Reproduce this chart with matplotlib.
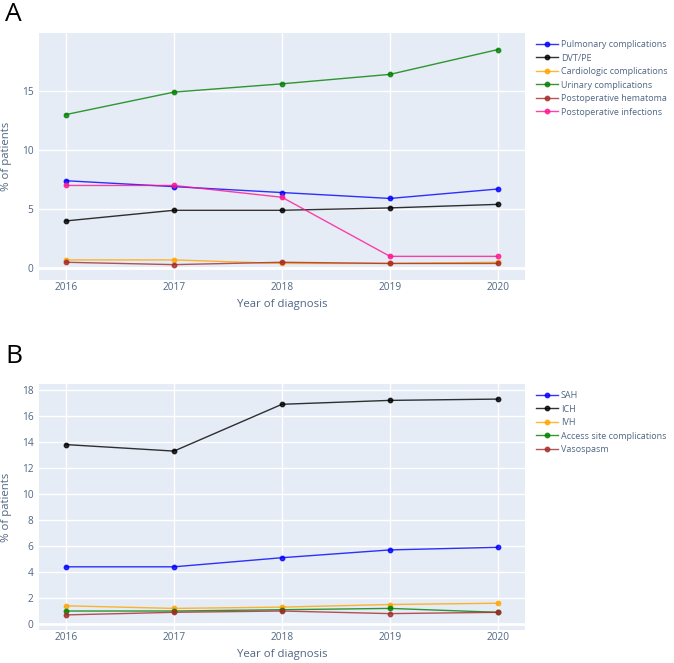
import numpy as np
import matplotlib.pyplot as plt

plt.rcParams['font.family'] = ['Open Sans', 'DejaVu Sans']

years = [2016, 2017, 2018, 2019, 2020]

# panel A
pulmonary = [7.4, 6.9, 6.4, 5.9, 6.7]
dvt_pe = [4.0, 4.9, 4.9, 5.1, 5.4]
cardiologic = [0.7, 0.7, 0.4, 0.4, 0.5]
urinary = [13.0, 14.9, 15.6, 16.4, 18.5]
hematoma = [0.5, 0.3, 0.5, 0.4, 0.4]
infections = [7.0, 7.0, 6.0, 1.0, 1.0]

# panel B
sah = [4.4, 4.4, 5.1, 5.7, 5.9]
ich = [13.8, 13.3, 16.9, 17.2, 17.3]
ivh = [1.4, 1.2, 1.3, 1.5, 1.6]
access_site = [1.0, 1.0, 1.1, 1.2, 0.9]
vasospasm = [0.7, 0.9, 1.0, 0.8, 0.9]

series_a = [("Pulmonary complications", pulmonary, "blue"),
            ("DVT/PE", dvt_pe, "black"),
            ("Cardiologic complications", cardiologic, "orange"),
            ("Urinary complications", urinary, "green"),
            ("Postoperative hematoma", hematoma, "brown"),
            ("Postoperative infections", infections, "deeppink")]
series_b = [("SAH", sah, "blue"),
            ("ICH", ich, "black"),
            ("IVH", ivh, "orange"),
            ("Access site complications", access_site, "green"),
            ("Vasospasm", vasospasm, "brown")]

txt = "#506784"
W, H = 674, 663
fig = plt.figure(figsize=(W / 100, H / 100), dpi=100)


def panel(rect, series, ylim, yticks, letter, letter_y):
    l, t, r, b = rect
    ax = fig.add_axes([l / W, 1 - b / H, (r - l) / W, (b - t) / H])
    ax.set_facecolor("#E5ECF6")
    for name, vals, col in series:
        ax.plot(years, vals, color=col, lw=1.0, marker="o", ms=3.2, label=name, alpha=0.8)
    ax.set_xlim(2015.75, 2020.25)
    ax.set_ylim(*ylim)
    ax.set_xticks(years)
    ax.set_yticks(yticks)
    ax.grid(True, color="white", lw=1.0)
    ax.set_axisbelow(True)
    ax.axhline(0, color="white", lw=2, zorder=0.5)
    for s in ax.spines.values():
        s.set_visible(False)
    ax.tick_params(length=0, labelsize=7.3, labelcolor=txt)
    ax.tick_params(axis="x", pad=1.5)
    ax.tick_params(axis="y", pad=4)
    ax.set_xlabel("Year of diagnosis", fontsize=8.2, color=txt)
    ax.set_ylabel("% of patients", fontsize=8.2, color=txt, va="center")
    ax.xaxis.set_label_coords(0.5, -19 / (b - t))
    ax.yaxis.set_label_coords((7 - l) / (r - l), 0.5)
    leg = fig.legend(*ax.get_legend_handles_labels(), loc="upper left",
                     bbox_to_anchor=(536 / W, 1 - (t + 7) / H), frameon=False,
                     fontsize=6.5, handlelength=2.4, handletextpad=0.35, labelspacing=0.5,
                     borderaxespad=0, borderpad=0)
    for tx in leg.get_texts():
        tx.set_color(txt)
    fig.text(5 / W, 1 - letter_y / H, letter, fontsize=19, va="top", ha="left")
    return ax


panel((39, 33, 525, 280), series_a, (-1.0, 19.9), [0, 5, 10, 15], "A", 2)
panel((39, 384, 525, 630), series_b, (-0.46, 18.46), list(range(0, 19, 2)), "B", 344)

fig.savefig("out.png", dpi=100)
